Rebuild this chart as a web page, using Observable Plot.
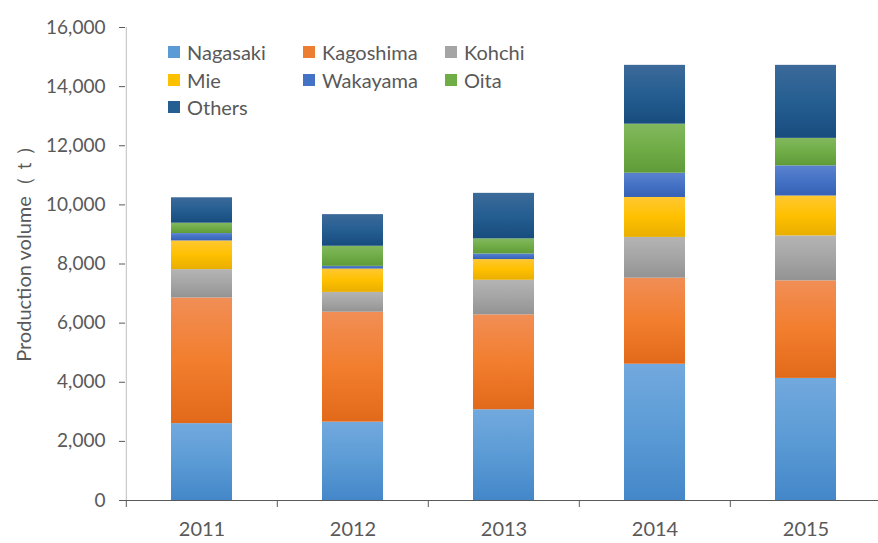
<!DOCTYPE html>
<html>
<head>
<meta charset="utf-8">
<script src="https://cdn.jsdelivr.net/npm/d3@7"></script>
<script src="https://cdn.jsdelivr.net/npm/@observablehq/plot@0.6"></script>
<style>
  html, body { margin: 0; padding: 0; background: #fff; }
  #wrap { position: relative; width: 878px; height: 543px; font-family: Lato, "Open Sans", sans-serif; }
  #legend { position: absolute; left: 168px; top: 40px; display: grid; grid-template-columns: 135px 142px 120px; row-gap: 3px; }
  .item { display: flex; align-items: center; font-size: 20px; color: #595959; height: 24.5px; }
  .sw { width: 12px; height: 12px; margin-right: 7px; display: inline-block; }
</style>
</head>
<body>
<div id="wrap"></div>
<script>
const years = ["2011", "2012", "2013", "2014", "2015"];
const seriesNames = ["Nagasaki", "Kagoshima", "Kohchi", "Mie", "Wakayama", "Oita", "Others"];
const nagasaki  = [2600, 2650, 3070, 4610, 4130];
const kagoshima = [4250, 3720, 3210, 2910, 3300];
const kohchi    = [960, 670, 1170, 1380, 1520];
const mie       = [970, 790, 700, 1350, 1350];
const wakayama  = [250, 90, 190, 820, 1020];
const oita      = [350, 680, 510, 1660, 930];
const others    = [860, 1070, 1540, 1990, 2470];
const yTicks = [0, 2000, 4000, 6000, 8000, 10000, 12000, 14000, 16000];
const yLabel = "Production volume（ｔ）";

const seriesValues = [nagasaki, kagoshima, kohchi, mie, wakayama, oita, others];
const baseColors = ["#5B9BD5", "#ED7D31", "#A5A5A5", "#FFC000", "#4472C4", "#70AD47", "#255E91"];
const gradStops = [
  ["#72A9DE", "#5B9BD5", "#4487C9"],
  ["#F18E56", "#F27E2E", "#E2691A"],
  ["#B4B4B4", "#A5A5A5", "#939393"],
  ["#FFC831", "#FFC000", "#E9AE00"],
  ["#5B82D0", "#4472C4", "#3661B5"],
  ["#82B85E", "#70AD47", "#5F9B38"],
  ["#3C6A9A", "#255E91", "#184C7E"]
];

const data = [];
seriesNames.forEach((s, si) => years.forEach((y, yi) => data.push({year: y, series: s, value: seriesValues[si][yi]})));

const W = 878, H = 543, mL = 125, mR = -4, mT = 27, mB = 43;
const step = (W - mR - mL) / years.length;
const textColor = "#595959";

const svg = Plot.plot({
  width: W,
  height: H,
  marginLeft: mL,
  marginRight: mR,
  marginTop: mT,
  marginBottom: mB,
  style: {fontFamily: "Lato, 'Open Sans', sans-serif", fontSize: "19px", color: textColor, background: "#fff", overflow: "visible"},
  x: {domain: years, padding: 0, axis: null},
  y: {domain: [0, 16000], axis: null},
  color: {domain: seriesNames, range: seriesNames.map((s, i) => `url(#grad${i})`)},
  marks: [
    Plot.barY(data, Plot.stackY({order: seriesNames}, {x: "year", y: "value", fill: "series", insetLeft: 45, insetRight: 45})),
    Plot.ruleX([0], {x: () => years[0], dx: -step / 2, y1: 0, y2: 16000, stroke: "#bfbfbf", strokeWidth: 1}),
    Plot.axisY({ticks: yTicks, tickSize: 6, tickPadding: 14, tickFormat: d3.format(","), stroke: "#595959", fill: textColor, fontSize: 19, label: null}),
    Plot.text([yLabel], {frameAnchor: "left", dx: -101, dy: -15, rotate: -90, text: d => d, fill: textColor, fontSize: 20, textAnchor: "middle", lineAnchor: "middle"}),
    Plot.ruleY([0], {stroke: "#595959", strokeWidth: 1.2}),
    Plot.axisX({tickSize: 7, tickFormat: () => "", dx: -step / 2, stroke: "#595959", label: null}),
    Plot.axisX({tickSize: 0, tickPadding: 21, fill: textColor, fontSize: 20, label: null})
  ]
});

// gradient definitions for the Excel-like shading
const ns = "http://www.w3.org/2000/svg";
const defs = document.createElementNS(ns, "defs");
gradStops.forEach((stops, i) => {
  const g = document.createElementNS(ns, "linearGradient");
  g.setAttribute("id", `grad${i}`);
  g.setAttribute("x1", "0"); g.setAttribute("y1", "0"); g.setAttribute("x2", "0"); g.setAttribute("y2", "1");
  [[0, stops[0]], [0.5, stops[1]], [1, stops[2]]].forEach(([o, c]) => {
    const st = document.createElementNS(ns, "stop");
    st.setAttribute("offset", o);
    st.setAttribute("stop-color", c);
    g.appendChild(st);
  });
  defs.appendChild(g);
});
svg.insertBefore(defs, svg.firstChild);

const wrap = document.getElementById("wrap");
wrap.appendChild(svg);

const legend = document.createElement("div");
legend.id = "legend";
seriesNames.forEach((s, i) => {
  const it = document.createElement("div");
  it.className = "item";
  it.innerHTML = `<span class="sw" style="background:${baseColors[i]}"></span>${s}`;
  legend.appendChild(it);
});
wrap.appendChild(legend);
</script>
</body>
</html>
